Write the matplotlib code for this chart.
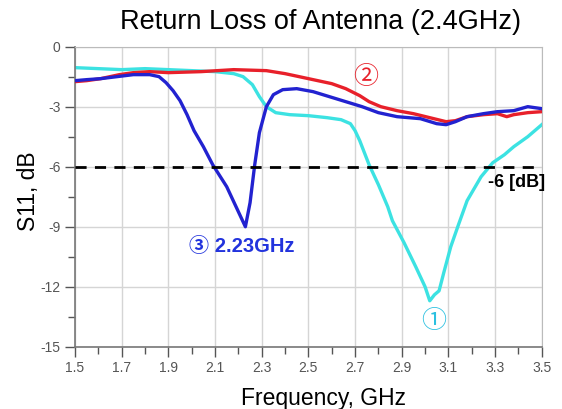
import matplotlib.pyplot as plt
import numpy as np
from matplotlib.ticker import MultipleLocator

plt.rcParams['font.family'] = ['Liberation Sans', 'Noto Sans CJK JP', 'DejaVu Sans']

# curve 1 (cyan)
freq1 = [1.50, 1.60, 1.70, 1.80, 1.90, 2.00, 2.10, 2.18, 2.22, 2.26, 2.29, 2.32, 2.36, 2.42,
         2.50, 2.58, 2.64, 2.68, 2.70, 2.72, 2.76, 2.80, 2.84, 2.86, 2.91, 2.96, 3.00, 3.02,
         3.04, 3.06, 3.08, 3.11, 3.14, 3.18, 3.24, 3.29, 3.34, 3.38, 3.44, 3.50]
s11_1 = [-1.05, -1.1, -1.15, -1.1, -1.15, -1.2, -1.25, -1.35, -1.5, -1.9, -2.5, -3.0, -3.3, -3.4,
         -3.45, -3.55, -3.65, -3.85, -4.2, -4.7, -5.9, -6.9, -8.0, -8.7, -9.8, -11.0, -12.0, -12.7,
         -12.4, -12.2, -11.3, -10.0, -9.0, -7.7, -6.5, -5.8, -5.4, -5.0, -4.5, -3.9]

# curve 2 (red)
freq2 = [1.50, 1.55, 1.61, 1.69, 1.75, 1.82, 1.90, 2.04, 2.18, 2.32, 2.40, 2.46, 2.52, 2.60,
         2.66, 2.72, 2.76, 2.81, 2.88, 2.95, 3.02, 3.09, 3.13, 3.18, 3.25, 3.31, 3.35, 3.38,
         3.44, 3.50]
s11_2 = [-1.75, -1.7, -1.6, -1.4, -1.3, -1.25, -1.3, -1.25, -1.15, -1.2, -1.35, -1.5, -1.65, -1.85,
         -2.1, -2.45, -2.75, -3.0, -3.2, -3.35, -3.55, -3.75, -3.7, -3.5, -3.4, -3.35, -3.5, -3.4,
         -3.3, -3.25]

# curve 3 (blue)
freq3 = [1.50, 1.55, 1.61, 1.68, 1.75, 1.82, 1.86, 1.89, 1.92, 1.95, 1.98, 2.01, 2.05, 2.09,
         2.15, 2.19, 2.23, 2.25, 2.27, 2.29, 2.32, 2.35, 2.39, 2.45, 2.52, 2.59, 2.66, 2.73,
         2.80, 2.88, 2.98, 3.05, 3.09, 3.13, 3.18, 3.25, 3.31, 3.38, 3.44, 3.50]
s11_3 = [-1.7, -1.65, -1.6, -1.5, -1.4, -1.4, -1.5, -1.8, -2.2, -2.7, -3.4, -4.2, -5.0, -5.9,
         -7.0, -8.0, -9.0, -7.8, -5.9, -4.3, -3.0, -2.4, -2.15, -2.1, -2.25, -2.5, -2.75, -3.0,
         -3.3, -3.5, -3.6, -3.85, -3.9, -3.75, -3.5, -3.35, -3.25, -3.2, -3.0, -3.1]

limit_db = -6
xticks = [1.5, 1.7, 1.9, 2.1, 2.3, 2.5, 2.7, 2.9, 3.1, 3.3, 3.5]
yticks = [0, -3, -6, -9, -12, -15]

fig = plt.figure(figsize=(5.62, 4.09), dpi=100)
ax = fig.add_axes([0.1335, 0.152, 0.8305, 0.734])

ax.plot(freq2, s11_2, color='#E8202A', lw=2.4, zorder=3)
ax.plot(freq3, s11_3, color='#2222D0', lw=2.4, zorder=4)
ax.plot(freq1, s11_1, color='#3CE2E2', lw=2.4, zorder=2)
ax.axhline(limit_db, color='black', lw=2, ls=(0, (4, 3)), zorder=5)

ax.set_xlim(1.5, 3.5)
ax.set_ylim(-15, 0)
ax.set_xticks(xticks)
ax.set_xticklabels(['%.1f' % v for v in xticks])
ax.xaxis.set_minor_locator(MultipleLocator(0.1))
ax.set_yticks(yticks)
ax.set_yticklabels([str(v) for v in yticks])
ax.yaxis.set_minor_locator(MultipleLocator(1.5))
ax.tick_params(axis='both', which='major', labelsize=10, colors='#555555', length=7, width=1)
ax.tick_params(axis='both', which='minor', colors='#555555', length=5, width=1)
ax.grid(True, which='major', color='#D5D5D5', lw=1)
for side in ['top', 'right']:
    ax.spines[side].set_color('#BBBBBB')
for side in ['left', 'bottom']:
    ax.spines[side].set_color('#777777')
    ax.spines[side].set_linewidth(1.2)

ax.set_xlabel('Frequency, GHz', fontsize=16.5)
ax.xaxis.set_label_coords(0.532, -0.135)
ax.set_ylabel('S11, dB', fontsize=16.5)
ax.yaxis.set_label_coords(-0.075, 0.52)
fig.text(0.571, 0.946, 'Return Loss of Antenna (2.4GHz)', fontsize=19.5, ha='center', va='center')

ax.text(2.747, -1.5, '②', color='#E8202A', fontsize=18, ha='center', va='center')
ax.text(3.035, -13.7, '①', color='#2BC0E0', fontsize=18, ha='center', va='center')
ax.text(1.99, -10.0, '③ 2.23GHz', color='#2233DD', fontsize=14.5, fontweight='bold',
        ha='left', va='center')
ax.text(3.27, -6.8, '-6 [dB]', color='black', fontsize=13, fontweight='bold',
        ha='left', va='center', clip_on=False)

fig.savefig('out.png', dpi=100)
